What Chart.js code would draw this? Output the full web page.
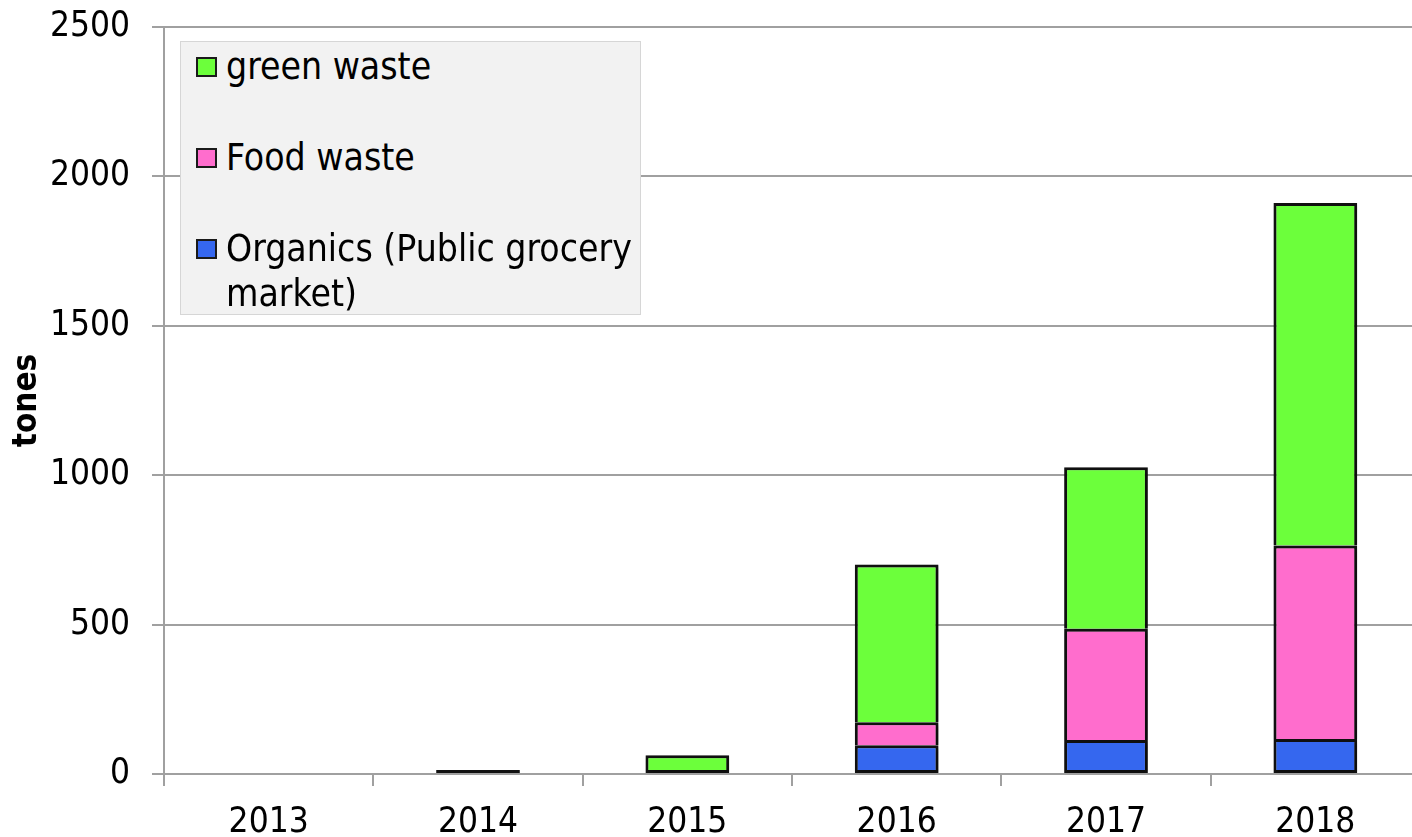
<!DOCTYPE html>
<html>
<head>
<meta charset="utf-8">
<script src="https://cdn.jsdelivr.net/npm/chart.js@4.4.0/dist/chart.umd.min.js"></script>
<style>
    html, body { margin: 0; padding: 0; background: #fff; overflow: hidden; }
    #wrap { position: relative; width: 1412px; height: 837px; overflow: hidden; }
    #box { position: absolute; left: 0; top: -16px; width: 1420px; height: 853px; }
    #legend {
        position: absolute; left: 180px; top: 41px; width: 461px; height: 274px;
        background: #f2f2f2; border: 1px solid #d6d6d6; box-sizing: border-box;
        font-family: "DejaVu Sans Condensed", "DejaVu Sans", sans-serif; font-size: 37px; color: #000;
    }
    #legend .item { position: absolute; left: 15px; width: 445px; line-height: 45px; }
    #legend .sw { position: absolute; left: 0; top: 13px; width: 17px; height: 16px; border: 2px solid #1a1a1a; }
    #legend .txt { margin-left: 30px; width: 414px; }
</style>
</head>
<body>
<div id="wrap">
    <div id="box"><canvas id="chart" width="1420" height="853"></canvas></div>
    <div id="legend"></div>
</div>
<script>
    // data
    var years = ["2013", "2014", "2015", "2016", "2017", "2018"];
    var organics = [null, null, null, 96, 114, 117];
    var foodWaste = [null, null, null, 77, 372, 648];
    var greenWaste = [null, 13, 63, 528, 541, 1146];
    var yTicks = [0, 500, 1000, 1500, 2000, 2500];

    var FONT = "'DejaVu Sans Condensed', 'DejaVu Sans', sans-serif";
    var GRID = "#a0a0a0";

    // soft shadow under the bars, like the original
    var barShadow = {
        id: "barShadow",
        beforeDatasetsDraw: function (chart) {
            var c = chart.ctx;
            c.save();
            c.shadowColor = "rgba(0,0,0,0.35)";
            c.shadowBlur = 4;
            c.shadowOffsetX = 2;
            c.shadowOffsetY = 2;
        },
        afterDatasetsDraw: function (chart) {
            chart.ctx.restore();
        }
    };

    // skip the bottom edge when a segment sits on another one (single divider line)
    function skipEdge(c) {
        var ds = c.chart.data.datasets;
        for (var k = 0; k < c.datasetIndex; k++) {
            if (ds[k].data[c.dataIndex]) return "start";
        }
        return false;
    }

    var ctx = document.getElementById("chart").getContext("2d");
    var myChart = new Chart(ctx, {
        type: "bar",
        data: {
            labels: years,
            datasets: [{
                    label: "Organics (Public grocery market)",
                    data: organics,
                    backgroundColor: "#3567ef"
                },
                {
                    label: "Food waste",
                    data: foodWaste,
                    backgroundColor: "#ff6dcd"
                },
                {
                    label: "green waste",
                    data: greenWaste,
                    backgroundColor: "#6cff3b"
                }
            ]
        },
        options: {
            responsive: false,
            animation: false,
            layout: { padding: 0 },
            datasets: {
                bar: {
                    barPercentage: 0.4,
                    categoryPercentage: 1,
                    borderColor: "#111",
                    borderWidth: 3,
                    borderSkipped: skipEdge
                }
            },
            plugins: {
                legend: { display: false },
                tooltip: { enabled: false }
            },
            scales: {
                x: {
                    stacked: true,
                    border: { color: GRID, width: 2 },
                    grid: { offset: true, drawOnChartArea: false, color: GRID, lineWidth: 2, tickLength: 12 },
                    ticks: { color: "#000", padding: 16, font: { family: FONT, size: 35 } },
                    afterFit: function (s) { s.height = 63; }
                },
                y: {
                    stacked: true,
                    min: 0,
                    max: 2500,
                    afterBuildTicks: function (s) {
                        s.ticks = yTicks.map(function (v) { return { value: v }; });
                    },
                    border: { color: GRID, width: 2 },
                    grid: { color: GRID, lineWidth: 2, tickLength: 12 },
                    ticks: {
                        color: "#000",
                        padding: 22,
                        font: { family: FONT, size: 35 },
                        callback: function (v) { return String(v); }
                    },
                    title: {
                        display: true,
                        text: "tones",
                        color: "#000",
                        padding: { top: 8, bottom: 0 },
                        font: { family: FONT, size: 33, weight: "bold" }
                    },
                    afterFit: function (s) { s.width = 164; }
                }
            }
        },
        plugins: [barShadow]
    });

    // Legend (reverse order, like the original)
    var legend = document.getElementById("legend");
    var tops = [2, 93, 184];
    myChart.data.datasets.slice().reverse().forEach(function (ds, i) {
        var item = document.createElement("div");
        item.className = "item";
        item.style.top = tops[i] + "px";
        var sw = document.createElement("div");
        sw.className = "sw";
        sw.style.background = ds.backgroundColor;
        var txt = document.createElement("div");
        txt.className = "txt";
        txt.textContent = ds.label;
        item.appendChild(sw);
        item.appendChild(txt);
        legend.appendChild(item);
    });
</script>
</body>
</html>
